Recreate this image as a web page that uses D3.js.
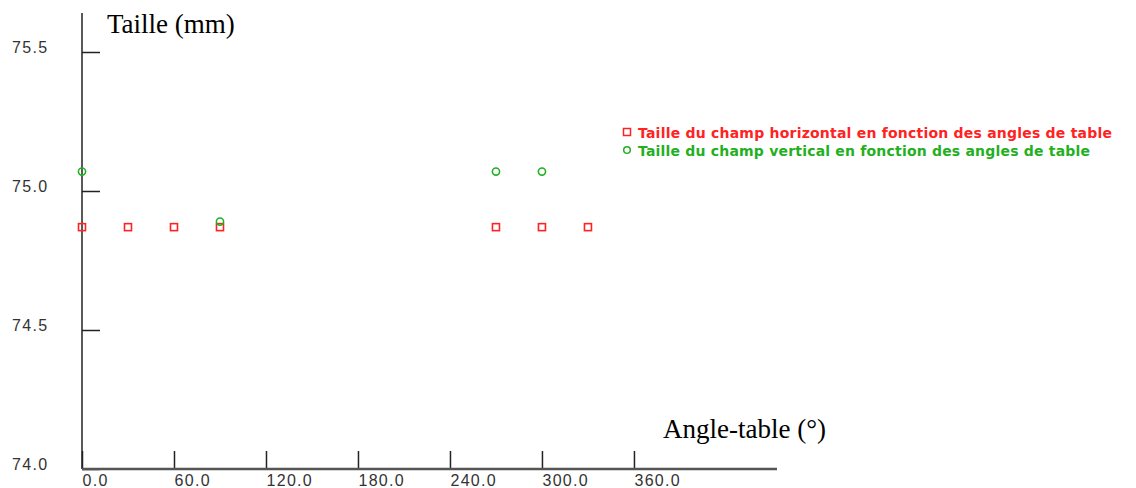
<!DOCTYPE html>
<html>
<head>
<meta charset="utf-8">
<script src="https://cdn.jsdelivr.net/npm/d3@7"></script>
<style>
  body { margin: 0; background: #fff; }
  svg { display: block; }
</style>
</head>
<body>
<svg id="chart" width="1136" height="488"></svg>
<script>
// data
var horizAngles = [0, 30, 60, 90, 270, 300, 330];
var horizSizes  = [74.87, 74.87, 74.87, 74.87, 74.87, 74.87, 74.87];
var vertAngles  = [0, 90, 270, 300];
var vertSizes   = [75.07, 74.89, 75.07, 75.07];
var xTicks = [0, 60, 120, 180, 240, 300, 360];
var yTicks = [74.0, 74.5, 75.0, 75.5];
var legendLabels = ["Taille du champ horizontal en fonction des angles de table",
                    "Taille du champ vertical en fonction des angles de table"];

var red = "#ff2222", green = "#22b022";

var svg = d3.select("#chart");
var x = d3.scaleLinear().domain([0, 453.3]).range([82, 777]);
var y = d3.scaleLinear().domain([74, 75.5]).range([469, 52]);

var tickFont = function(sel) {
  sel.attr("fill", "#333")
    .style("font-family", "'Liberation Sans', Arial, sans-serif")
    .style("font-size", "16px")
    .style("letter-spacing", "1.3px");
};

// y axis
var yAxis = svg.append("g")
    .attr("transform", "translate(" + x(0) + ",0)")
    .call(d3.axisRight(y).tickValues(yTicks).tickSize(18).tickFormat(d3.format(".1f")));
yAxis.select(".domain").remove();
yAxis.selectAll("line").attr("stroke", "#222").attr("stroke-width", 1.5);
yAxis.selectAll("text")
    .attr("x", -70).attr("dy", 0)
    .attr("text-anchor", "start")
    .call(tickFont);
svg.append("line")
    .attr("x1", x(0)).attr("x2", x(0))
    .attr("y1", 13).attr("y2", y(74))
    .attr("stroke", "#222").attr("stroke-width", 1.5);

// x axis
var xAxis = svg.append("g")
    .attr("transform", "translate(0," + y(74) + ")")
    .call(d3.axisTop(x).tickValues(xTicks).tickSize(18).tickFormat(d3.format(".1f")));
xAxis.select(".domain").remove();
xAxis.selectAll("line").attr("stroke", "#222").attr("stroke-width", 1.5);
xAxis.selectAll("text")
    .attr("y", 17).attr("dy", 0)
    .attr("text-anchor", "start")
    .call(tickFont);
svg.append("line")
    .attr("x1", x(0)).attr("x2", x(453.3))
    .attr("y1", y(74)).attr("y2", y(74))
    .attr("stroke", "#555").attr("stroke-width", 2.5);

// axis titles
svg.append("text")
    .attr("x", 107).attr("y", 33)
    .style("font-family", "'Liberation Serif', 'Times New Roman', serif")
    .style("font-size", "27px")
    .text("Taille (mm)");
svg.append("text")
    .attr("x", 663).attr("y", 438)
    .style("font-family", "'Liberation Serif', 'Times New Roman', serif")
    .style("font-size", "27px")
    .text("Angle-table (°)");

// horizontal field size (squares)
svg.append("g").selectAll("rect")
    .data(horizAngles)
    .enter().append("rect")
      .attr("x", function(d) { return x(d) - 3.5; })
      .attr("y", function(d, i) { return y(horizSizes[i]) - 3.5; })
      .attr("width", 7).attr("height", 7)
      .attr("fill", "none")
      .attr("stroke", red).attr("stroke-width", 1.6);

// vertical field size (circles)
svg.append("g").selectAll("circle")
    .data(vertAngles)
    .enter().append("circle")
      .attr("cx", function(d) { return x(d); })
      .attr("cy", function(d, i) { return y(vertSizes[i]); })
      .attr("r", 3.6)
      .attr("fill", "none")
      .attr("stroke", green).attr("stroke-width", 1.6);

// legend
var legend = svg.append("g")
  .selectAll("g")
  .data(legendLabels)
  .enter().append("g")
    .attr("transform", function(d, i) { return "translate(627," + (132 + i * 18) + ")"; });

legend.each(function(d, i) {
  var g = d3.select(this);
  var c = i === 0 ? red : green;
  if (i === 0) {
    g.append("rect").attr("x", -3.5).attr("y", -3.5).attr("width", 7).attr("height", 7)
      .attr("fill", "none").attr("stroke", c).attr("stroke-width", 1.5);
  } else {
    g.append("circle").attr("r", 3.3).attr("fill", "none").attr("stroke", c).attr("stroke-width", 1.5);
  }
  g.append("text")
    .attr("x", 11).attr("y", 5.5)
    .attr("fill", c)
    .attr("textLength", i === 0 ? 474 : 452)
    .attr("lengthAdjust", "spacing")
    .style("font-family", "'DejaVu Sans', Verdana, sans-serif")
    .style("font-size", "14px")
    .style("font-weight", "bold")
    .text(d);
});
</script>
</body>
</html>
